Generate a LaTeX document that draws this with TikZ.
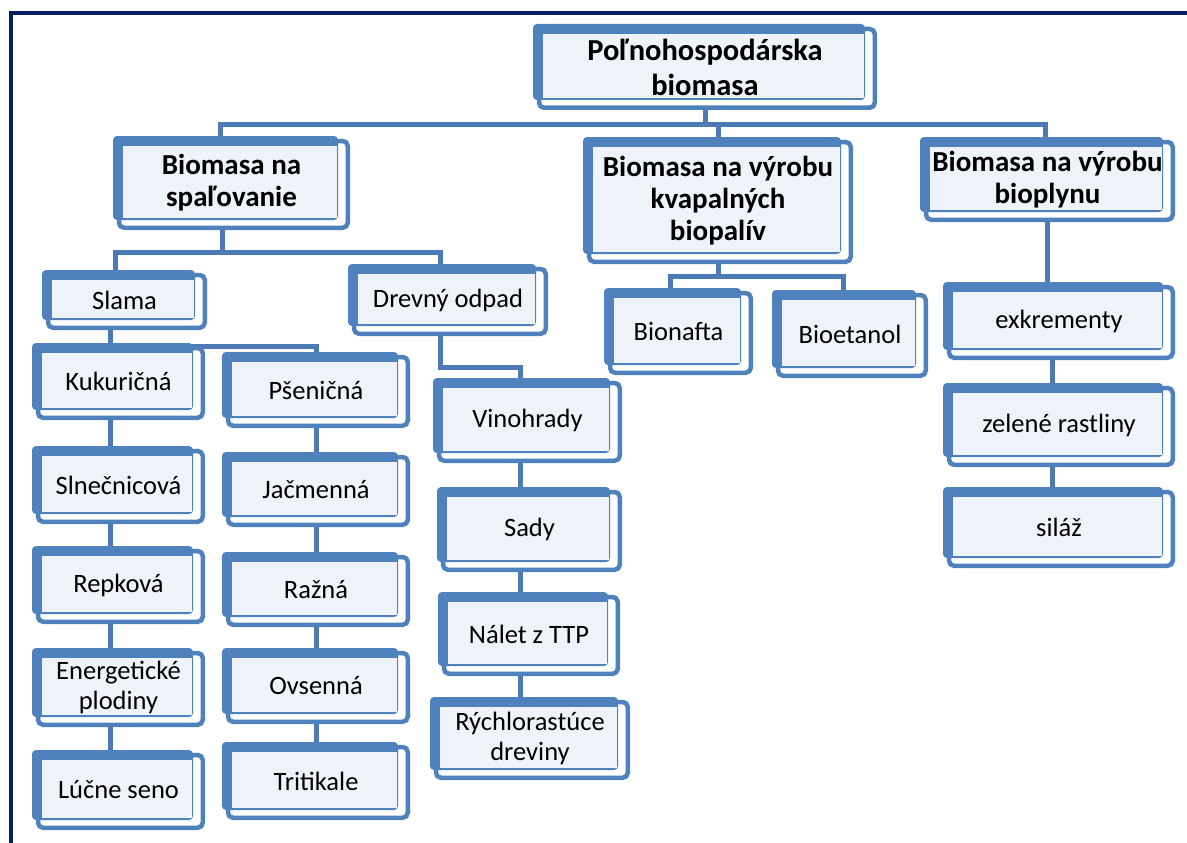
\documentclass[tikz,border=0pt]{standalone}
\usepackage{fontspec}
\setmainfont{Carlito}
\usetikzlibrary{calc}
\pgfdeclarelayer{bg}
\pgfsetlayers{bg,main}
\definecolor{bblue}{RGB}{79,129,189}
\definecolor{lightf}{RGB}{238,242,249}
\definecolor{conn}{RGB}{76,122,182}
\definecolor{navy}{RGB}{0,32,96}
\tikzset{
 boxtxt/.style={inner sep=0pt, align=center, font=\fontsize{26.5}{30}\selectfont, text=black},
 boldtxt/.style={inner sep=0pt, align=center, font=\fontsize{29}{32}\selectfont\bfseries, text=black},
 titletxt/.style={inner sep=0pt, align=center, font=\fontsize{30.5}{35}\selectfont\bfseries, text=black},
 connline/.style={draw=conn, line width=5pt},
}
\newcommand\skbox[7][boxtxt]{%
 \fill[bblue, rounded corners=4pt] (#3,#4) rectangle (#5-12,#6-10);
 \fill[lightf] (#3+10,#4+10) rectangle (#5-13,#6-12);
 \draw[bblue, line width=4.5pt, rounded corners=5pt] (#3+6,#4+5) rectangle (#5-2.25,#6-2.25);
 \node[#1, minimum width={#5-#3}, minimum height={#6-#4}] (#2) at ({(#3+#5)/2},{(#4+#6)/2}) {#7};
}
\begin{document}
\begin{tikzpicture}[x=1pt,y=-1pt]
\useasboundingbox (0,0) rectangle (1187,843);
\begin{pgfonlayer}{bg}
\fill[white] (0,0) rectangle (1187,843);
\end{pgfonlayer}
\draw[navy, line width=3.5pt] (11,843) -- (11,13) -- (1187,13);

\skbox[titletxt]{top}{533}{24}{877}{110}{Poľnohospodárska\\biomasa}
\skbox[boldtxt]{spal}{113}{136}{350}{230}{Biomasa na\\spaľovanie}
\skbox[boldtxt]{kvap}{583}{137}{853}{264}{Biomasa na výrobu\\kvapalných\\biopalív}
\skbox[boldtxt]{bioplyn}{920}{137}{1175}{222}{Biomasa na výrobu\\bioplynu}
\skbox{slama}{42}{270}{207}{330}{Slama}
\skbox{drevny}{348}{264}{548}{336}{Drevný odpad}
\skbox{kuk}{32}{343}{205}{420}{Kukuričná}
\skbox{sln}{32}{446}{205}{524}{Slnečnicová}
\skbox{rep}{32}{546}{205}{624}{Repková}
\skbox{ener}{32}{648}{205}{727}{Energetické\\plodiny}
\skbox{luc}{32}{750}{205}{830}{Lúčne seno}
\skbox{psen}{222}{352}{410}{428}{Pšeničná}
\skbox{jac}{222}{452}{410}{527}{Jačmenná}
\skbox{raz}{222}{552}{410}{627}{Ražná}
\skbox{ovs}{222}{648}{410}{724}{Ovsenná}
\skbox{trit}{222}{742}{410}{820}{Tritikale}
\skbox{vino}{433}{378}{622}{463}{Vinohrady}
\skbox{sady}{437}{487}{622}{572}{Sady}
\skbox{nalet}{438}{592}{620}{676}{Nálet z TTP}
\skbox{rych}{430}{697}{630}{780}{Rýchlorastúce\\dreviny}
\skbox{bionafta}{604}{288}{753}{375}{Bionafta}
\skbox{bioetanol}{772}{290}{928}{378}{Bioetanol}
\skbox{exkr}{943}{282}{1175}{360}{exkrementy}
\skbox{zel}{943}{383}{1175}{467}{zelené rastliny}
\skbox{silaz}{943}{487}{1175}{568}{siláž}

\begin{pgfonlayer}{bg}
\coordinate (j1) at (top.south |- 0,124);
\draw[connline] (top.south) -- (j1);
\draw[connline] (spal.north -| 220,0) |- (j1) -| (bioplyn.north -| 1045,0);
\draw[connline] (j1 -| kvap.north) -- (kvap.north);
\coordinate (j2) at (spal.south -| 222,0 |- 0,252);
\draw[connline] (spal.south -| 222,0) -- (222,252);
\draw[connline] (slama.north -| 115,0) |- (222,252) -| (drevny.north -| 440,0);
\draw[connline] (slama.south -| 110,0) -- (kuk.north -| 110,0);
\coordinate (j3) at (110,346);
\draw[connline] (j3) -| (psen.north);
\foreach \a/\b in {kuk/sln, sln/rep, rep/ener, ener/luc}
  \draw[connline] (\a.south -| 110,0) -- (\b.north -| 110,0);
\foreach \a/\b in {psen/jac, jac/raz, raz/ovs, ovs/trit}
  \draw[connline] (\a.south) -- (\b.north);
\coordinate (j4) at (520,367);
\draw[connline] (drevny.south -| 440,0) |- (j4) -- (vino.north -| j4);
\foreach \a/\b in {vino/sady, sady/nalet, nalet/rych}
  \draw[connline] (\a.south -| 520,0) -- (\b.north -| 520,0);
\coordinate (j5) at (kvap.south |- 0,276);
\draw[connline] (kvap.south) -- (j5);
\draw[connline] (bionafta.north -| 670,0) |- (j5) -| (bioetanol.north -| 843,0);
\draw[connline] (bioplyn.south -| 1047,0) -- (exkr.north -| 1047,0);
\foreach \a/\b in {exkr/zel, zel/silaz}
  \draw[connline] (\a.south -| 1052,0) -- (\b.north -| 1052,0);
\end{pgfonlayer}
\end{tikzpicture}
\end{document}
